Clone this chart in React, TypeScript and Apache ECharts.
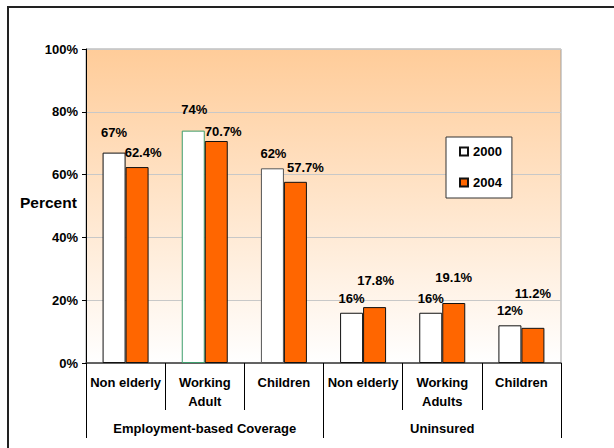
import React, { useEffect, useRef } from "react";
import * as echarts from "echarts";

const subCategories = ["Non elderly", "Working\nAdult", "Children", "Non elderly", "Working\nAdults", "Children"];
const groupCategories = ["Employment-based Coverage", "Uninsured"];
const seriesNames = ["2000", "2004"];
const values2000 = [67, 74, 62, 16, 16, 12];
const values2004 = [62.4, 70.7, 57.7, 17.8, 19.1, 11.2];
const yTicks = [0, 20, 40, 60, 80, 100];

// label nudges (style only)
const offsets2000 = [[0, -9], [1, -10], [1, -3], [0, -3], [0, -3], [0, -3]];
const offsets2004 = [[6, -3], [7, 2], [10, -3], [1, -15], [0, -14], [0, -23]];
const borders2000 = ["#111", "#3C9D6B", "#555", "#111", "#111", "#111"];

const FONT = "Liberation Sans, Arial, sans-serif";

export default function App() {
  const ref = useRef<HTMLDivElement>(null);
  useEffect(() => {
    if (!ref.current) return;
    const chart = echarts.init(ref.current, undefined, { renderer: "svg" });
    const labelBase = {
      show: true,
      position: "top",
      distance: 5,
      formatter: "{c}%",
      color: "#000",
      fontWeight: "bold",
      fontSize: 13,
      fontFamily: FONT,
    };
    chart.setOption({
      animation: false,
      textStyle: { fontFamily: FONT },
      grid: {
        left: 86,
        top: 49,
        right: 53,
        bottom: 85,
        show: true,
        borderColor: "#A0A0A0",
        borderWidth: 1,
        backgroundColor: new echarts.graphic.LinearGradient(0, 0, 0, 1, [
          { offset: 0, color: "#FFCC99" },
          { offset: 1, color: "#FFFFFF" },
        ]),
      },
      legend: {
        data: seriesNames,
        orient: "vertical",
        left: 446,
        top: 137,
        padding: [8, 10, 9, 13],
        itemGap: 18,
        itemWidth: 8,
        itemHeight: 8,
        icon: "rect",
        backgroundColor: "#FFFFFF",
        borderColor: "#333",
        borderWidth: 1,
        textStyle: { color: "#000", fontWeight: "bold", fontSize: 13, fontFamily: FONT },
      },
      xAxis: [
        {
          type: "category",
          data: subCategories,
          position: "bottom",
          axisLine: { show: true, lineStyle: { color: "#404040", width: 1.5 } },
          axisTick: { show: true, interval: 0, length: 47, lineStyle: { color: "#000", width: 1 } },
          axisLabel: {
            interval: 0,
            margin: 10,
            color: "#000",
            fontWeight: "bold",
            fontSize: 13,
            lineHeight: 19,
            fontFamily: FONT,
          },
          splitLine: { show: false },
        },
        {
          type: "category",
          data: groupCategories,
          position: "bottom",
          axisLine: { show: false },
          axisTick: { show: true, interval: 0, length: 75, lineStyle: { color: "#000", width: 1 } },
          axisLabel: {
            interval: 0,
            margin: 59,
            color: "#000",
            fontWeight: "bold",
            fontSize: 13,
            fontFamily: FONT,
          },
          splitLine: { show: false },
        },
      ],
      yAxis: {
        type: "value",
        min: yTicks[0],
        max: yTicks[yTicks.length - 1],
        interval: 20,
        axisLine: { show: true, lineStyle: { color: "#000", width: 1 } },
        axisTick: { show: true, length: 4, lineStyle: { color: "#000" } },
        axisLabel: {
          formatter: "{value}%",
          margin: 8,
          color: "#000",
          fontWeight: "bold",
          fontSize: 13,
          fontFamily: FONT,
        },
        splitLine: { show: true, lineStyle: { color: "#C8C8C8", width: 1 } },
      },
      series: [
        {
          name: seriesNames[0],
          type: "bar",
          xAxisIndex: 0,
          barWidth: 23,
          barGap: "0%",
          itemStyle: { color: "#FFFFFF", borderColor: "#111", borderWidth: 1 },
          label: labelBase,
          data: values2000.map((v, i) => ({
            value: v,
            itemStyle: { borderColor: borders2000[i] },
            label: { offset: offsets2000[i] },
          })),
        },
        {
          name: seriesNames[1],
          type: "bar",
          xAxisIndex: 0,
          barWidth: 23,
          barGap: "0%",
          itemStyle: { color: "#FF6600", borderColor: "#111", borderWidth: 1 },
          label: labelBase,
          data: values2004.map((v, i) => ({
            value: v,
            label: { offset: offsets2004[i] },
          })),
        },
      ],
      graphic: [
        {
          type: "rect",
          silent: true,
          z: -10,
          shape: { x: 8, y: 7, width: 700, height: 500 },
          style: { fill: "none", stroke: "#222", lineWidth: 2 },
        },
        {
          type: "text",
          x: 20,
          y: 202,
          style: {
            text: "Percent",
            fill: "#000",
            font: "bold 15.5px " + FONT,
            textVerticalAlign: "middle",
            verticalAlign: "middle",
          },
        },
      ],
    });
    return () => chart.dispose();
  }, []);
  return (
    <div
      ref={ref}
      style={{ position: "fixed", left: 0, top: 0, width: 614, height: 448, background: "#fff" }}
    />
  );
}
